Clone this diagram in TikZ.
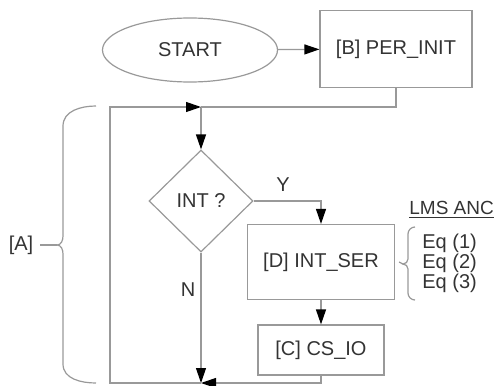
\documentclass[tikz,border=0pt]{standalone}
\usepackage{fontspec}
\setmainfont{Liberation Sans}
\usepackage{tikz}
\usetikzlibrary{arrows.meta,shapes.geometric}
\definecolor{linegray}{gray}{0.6}
\definecolor{textgray}{gray}{0.2}

\begin{document}
\begin{tikzpicture}[x=0.5pt,y=-0.5pt,
    every node/.style={font=\fontsize{10}{12}\selectfont,text=textgray},
    box/.style={draw=linegray,line width=0.6pt,inner sep=0pt},
    wire/.style={draw=linegray,line width=0.6pt},
    arr/.style={wire,-{Triangle[length=7.5pt,width=5pt,color=black]}}]
    \useasboundingbox (0,0) rectangle (497,385);

    \node[box,ellipse,minimum width=87.5pt,minimum height=32pt] (S) at (190,50) {START};
    \node[box,minimum width=76pt,minimum height=38.5pt] (B) at (396,49) {[B] PER\_INIT};
    \node[box,diamond,minimum width=52pt,minimum height=51pt] (Q) at (201,201) {INT ?};
    \node[box,minimum width=73.5pt,minimum height=37.5pt] (D) at (321,262) {[D] INT\_SER};
    \node[box,minimum width=63pt,minimum height=25pt] (C) at (321,350) {[C] CS\_IO};

    \coordinate (J1) at (201,107);
    \coordinate (J2) at (201,383);
    \coordinate (L1) at (110,107);
    \coordinate (L2) at (110,383);

    \draw[arr] (S) -- (B);
    \draw[wire] (B.south) |- (J1);
    \draw[arr] (J1) -- (Q.north);
    \draw[arr] (Q.east) -| (D.north);
    \draw[arr] (D.south) -- (C.north);
    \draw[arr] (Q.south) -- (J2);
    \draw[arr] (C.south) |- (J2);
    \draw[arr] (J2) -- (L2) -- (L1) -- (J1);

    \node (Y) at (283,185) {Y};
    \node (N) at (188,290) {N};

    % brace [A]
    \node (A) at (21,245) {[A]};
    \coordinate (Atip) at (57,245);
    \draw[wire] (96,106) to[out=180,in=90] (63,126) -- (63,236) to[out=-90,in=0] (Atip)
        to[out=0,in=90] (63,254) -- (63,364) to[out=-90,in=180] (96,383);
    \draw[wire] (A.east) -- (Atip);

    % LMS ANC
    \node[anchor=west,inner sep=0pt,font=\fontsize{9.5}{11}\selectfont] (lms) at (409,210) {\underline{LMS ANC}};
    \coordinate (Etip) at (403,264);
    \draw[wire] (415,227) to[out=180,in=90] (408,234) -- (408,259) to[out=-90,in=0] (Etip)
        to[out=0,in=90] (408,269) -- (408,293) to[out=-90,in=180] (415,300);
    \draw[wire] (D.east) ++(2pt,0) coordinate (Dt) -- (Etip);
    \node[anchor=west,inner sep=0pt] (eq1) at (422,243) {Eq (1)};
    \node[anchor=west,inner sep=0pt] (eq2) at (422,263) {Eq (2)};
    \node[anchor=west,inner sep=0pt] (eq3) at (422,283) {Eq (3)};
\end{tikzpicture}
\end{document}
